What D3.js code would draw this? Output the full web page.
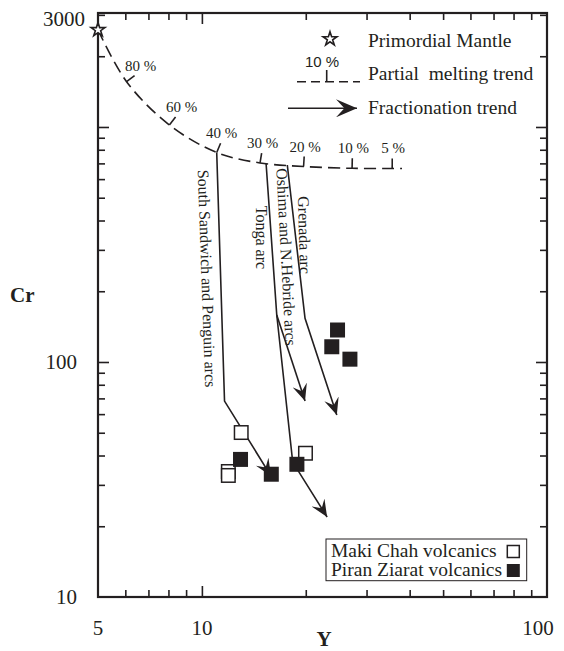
<!DOCTYPE html>
<html><head><meta charset="utf-8">
<script src="https://cdn.jsdelivr.net/npm/d3@7"></script>
<style>
body{margin:0;background:#fff}
svg{display:block}
text{font-family:"Liberation Serif","Times New Roman",serif;fill:#231f20}
</style>
</head><body>
<svg id="c" width="564" height="651"></svg>
<script>
// ---------------- data ----------------
const xTickLabels = [5, 10, 100];
const yTickLabels = [10, 100, 3000];
const primordialMantle = [[5, 2590]];
// partial melting trend (Y, Cr)
const meltCurve = [[5, 2590], [6.05, 1559], [8.05, 1020], [11.04, 779], [14.74, 703], [19.71, 679], [27.24, 667], [35.6, 666], [38.0, 666]];
const meltLabels = ["80 %", "60 %", "40 %", "30 %", "20 %", "10 %", "5 %"]; // at meltCurve[1..7]
// fractionation trends (Y, Cr)
const sandwichArc = [[11.04, 779], [11.63, 68.2], [15.86, 32.7]];
const tongaArc = [[15.35, 696], [16.48, 158.5], [18.33, 37.5], [23.06, 21.9]];
const oshimaArc = [[16.48, 158.5], [19.9, 68.2]];
const grenadaArc = [[17.68, 689], [19.9, 153.5], [24.6, 59.5]];
const arcNames = ["South Sandwich and Penguin arcs", "Tonga arc", "Oshima and N.Hebride arcs", "Grenada arc"];
// samples
const makiChah = [[13.0, 50.1], [11.93, 34.2], [11.93, 32.9], [19.96, 40.9]];
const piranZiarat = [[24.72, 136.8], [23.79, 116.1], [26.85, 102.8], [12.94, 38.5], [15.89, 33.3], [18.85, 36.7]];
const legendTop = ["Primordial Mantle", "Partial  melting trend", "Fractionation trend"];
const legendBottom = ["Maki Chah volcanics", "Piran Ziarat volcanics"];

// ---------------- layout ----------------
const INK = "#231f20";
const L = 98, R = 547, T = 13, B = 597;
const x = d3.scaleLog().domain([5, 100]).range([L, R]);
const y = d3.scaleLog().domain([10, 3055]).range([B, T]);
const svg = d3.select("#c");

// arrowhead marker
const defs = svg.append("defs");
function marker(id, len, wid) {
  defs.append("marker").attr("id", id).attr("viewBox", `0 ${-wid/2} ${len} ${wid}`)
    .attr("refX", len).attr("refY", 0).attr("markerUnits", "userSpaceOnUse")
    .attr("markerWidth", len).attr("markerHeight", wid).attr("orient", "auto")
    .append("path").attr("d", `M0,${-wid/2}L${len},0L0,${wid/2}L${len*0.4},0Z`).attr("fill", INK);
}
marker("arr", 17, 15);
marker("arrL", 21, 18);

// ---------------- axes ----------------
const minorY = [], minorX = [];
[10, 100, 1000].forEach(d => { for (let k = 2; k <= 9; k++) if (k * d < 3055) minorY.push(k * d); });
[1, 10].forEach(d => { for (let k = 1; k <= 9; k++) { const v = k * d; if (v > 5 && v < 100 && v !== 10) minorX.push(v); } });
const majorY = [100, 1000], majorX = [10];

function axisGroup(gen, tx, ty) {
  const g = svg.append("g").attr("transform", `translate(${tx},${ty})`).call(gen);
  g.select(".domain").remove();
  g.selectAll("line").attr("stroke", INK).attr("stroke-width", 1.6);
  return g;
}
[[d3.axisLeft, L, 0, y, minorY, majorY], [d3.axisRight, R, 0, y, minorY, majorY],
 [d3.axisBottom, 0, B, x, minorX, majorX], [d3.axisTop, 0, T, x, minorX, majorX]].forEach(([f, tx, ty, s, mn, mj]) => {
  axisGroup(f(s).tickValues(mn).tickSize(-7).tickFormat(""), tx, ty);
  axisGroup(f(s).tickValues(mj).tickSize(-11).tickFormat(""), tx, ty);
});
svg.append("rect").attr("x", L).attr("y", T).attr("width", R - L).attr("height", B - T)
  .attr("fill", "none").attr("stroke", INK).attr("stroke-width", 2.2);

// tick labels
svg.selectAll(".yl").data(yTickLabels).join("text")
  .attr("x", d => d === 3000 ? 85 : 77).attr("y", d => y(d) + (d === 3000 ? 11 : 7))
  .attr("text-anchor", "end").attr("font-size", 21).text(d => d);
svg.selectAll(".xl").data(xTickLabels).join("text")
  .attr("x", d => x(d) - (d === 100 ? 9 : 0)).attr("y", 635)
  .attr("text-anchor", "middle").attr("font-size", 21).text(d => d);
svg.append("text").attr("x", 10).attr("y", 302).attr("font-size", 21).attr("font-weight", "bold").text("Cr");
svg.append("text").attr("x", 324).attr("y", 646).attr("text-anchor", "middle").attr("font-size", 21).attr("font-weight", "bold").text("Y");

// ---------------- partial melting curve ----------------
const line = d3.line().x(d => x(d[0])).y(d => y(d[1]));
svg.append("path").datum(meltCurve).attr("d", line.curve(d3.curveCatmullRom.alpha(0.5)))
  .attr("fill", "none").attr("stroke", INK).attr("stroke-width", 1.6).attr("stroke-dasharray", "12,6");
line.curve(d3.curveLinear);
meltLabels.forEach((lab, j) => {
  const i = j + 1;
  const p = meltCurve[i], a = meltCurve[i - 1], b = meltCurve[i + 1];
  const px = x(p[0]), py = y(p[1]);
  let tx = x(b[0]) - x(a[0]), ty = y(b[1]) - y(a[1]);
  const n = Math.hypot(tx, ty); tx /= n; ty /= n;
  const nx = ty, ny = -tx; // up-right normal
  const ex = px + nx * 10, ey = py + ny * 10;
  svg.append("line").attr("x1", px).attr("y1", py).attr("x2", ex).attr("y2", ey)
    .attr("stroke", INK).attr("stroke-width", 1.6);
  svg.append("text").attr("x", ex + (j < 2 ? 6 : 1)).attr("y", ey - 5)
    .attr("text-anchor", "middle").attr("font-size", 15).text(lab);
});

// ---------------- fractionation trends ----------------
[sandwichArc, tongaArc, oshimaArc, grenadaArc].forEach(arr => {
  svg.append("path").datum(arr).attr("d", line).attr("fill", "none")
    .attr("stroke", INK).attr("stroke-width", 1.6).attr("marker-end", "url(#arr)");
});
// arc names (rotated, running top to bottom)
const arcCx = [207, 261, 286.5, 304.5];
const arcCy = [278.5, 237.5, 257, 235];
const arcRot = [88, 90, 87, 88.5];
arcNames.forEach((t, i) => {
  svg.append("text").attr("transform", `translate(${arcCx[i]},${arcCy[i]}) rotate(${arcRot[i]})`)
    .attr("text-anchor", "middle").attr("dominant-baseline", "central").attr("font-size", 16).text(t);
});

// ---------------- samples ----------------
const S = 15;
svg.selectAll(".mc").data(makiChah).join("rect")
  .attr("x", d => x(d[0]) - (S - 1.5) / 2).attr("y", d => y(d[1]) - (S - 1.5) / 2)
  .attr("width", S - 1.5).attr("height", S - 1.5).attr("fill", "#fff").attr("stroke", INK).attr("stroke-width", 1.5);
svg.selectAll(".pz").data(piranZiarat).join("rect")
  .attr("x", d => x(d[0]) - S / 2).attr("y", d => y(d[1]) - S / 2)
  .attr("width", S).attr("height", S).attr("fill", INK);

// primordial mantle star
const star = d3.symbol().type(d3.symbolStar).size(60);
svg.selectAll(".pm").data(primordialMantle).join("path")
  .attr("transform", d => `translate(${x(d[0])},${y(d[1])})`).attr("d", star)
  .attr("fill", "#fff").attr("stroke", INK).attr("stroke-width", 1.6);

// ---------------- top legend ----------------
svg.append("path").attr("transform", "translate(330,39)").attr("d", star)
  .attr("fill", "#fff").attr("stroke", INK).attr("stroke-width", 1.6);
svg.append("line").attr("x1", 297).attr("x2", 360).attr("y1", 81.7).attr("y2", 81.7)
  .attr("stroke", INK).attr("stroke-width", 1.6).attr("stroke-dasharray", "9,5");
svg.append("line").attr("x1", 326.7).attr("x2", 326.7).attr("y1", 70).attr("y2", 81.7)
  .attr("stroke", INK).attr("stroke-width", 1.6);
svg.append("text").attr("x", 322).attr("y", 66.5).attr("text-anchor", "middle")
  .attr("font-size", 15).style("font-family", "'Liberation Sans',Arial,sans-serif").text("10 %");
svg.append("line").attr("x1", 288).attr("x2", 357).attr("y1", 108.3).attr("y2", 108.3)
  .attr("stroke", INK).attr("stroke-width", 1.6).attr("marker-end", "url(#arrL)");
const ly = [46.5, 80, 113.5];
legendTop.forEach((t, i) => svg.append("text").attr("x", 368).attr("y", ly[i])
  .attr("font-size", 19.5).style("white-space", "pre").text(t));

// ---------------- bottom legend ----------------
svg.append("rect").attr("x", 326).attr("y", 539).attr("width", 200.7).attr("height", 41.7)
  .attr("fill", "#fff").attr("stroke", INK).attr("stroke-width", 1);
const by = [556.5, 575.5];
legendBottom.forEach((t, i) => svg.append("text").attr("x", 331).attr("y", by[i]).attr("font-size", 19.5).text(t));
svg.append("rect").attr("x", 507.3).attr("y", 545.5).attr("width", 12).attr("height", 12)
  .attr("fill", "#fff").attr("stroke", INK).attr("stroke-width", 1.5);
svg.append("rect").attr("x", 506.8).attr("y", 564).attr("width", 13).attr("height", 13).attr("fill", INK);
</script>
</body></html>
